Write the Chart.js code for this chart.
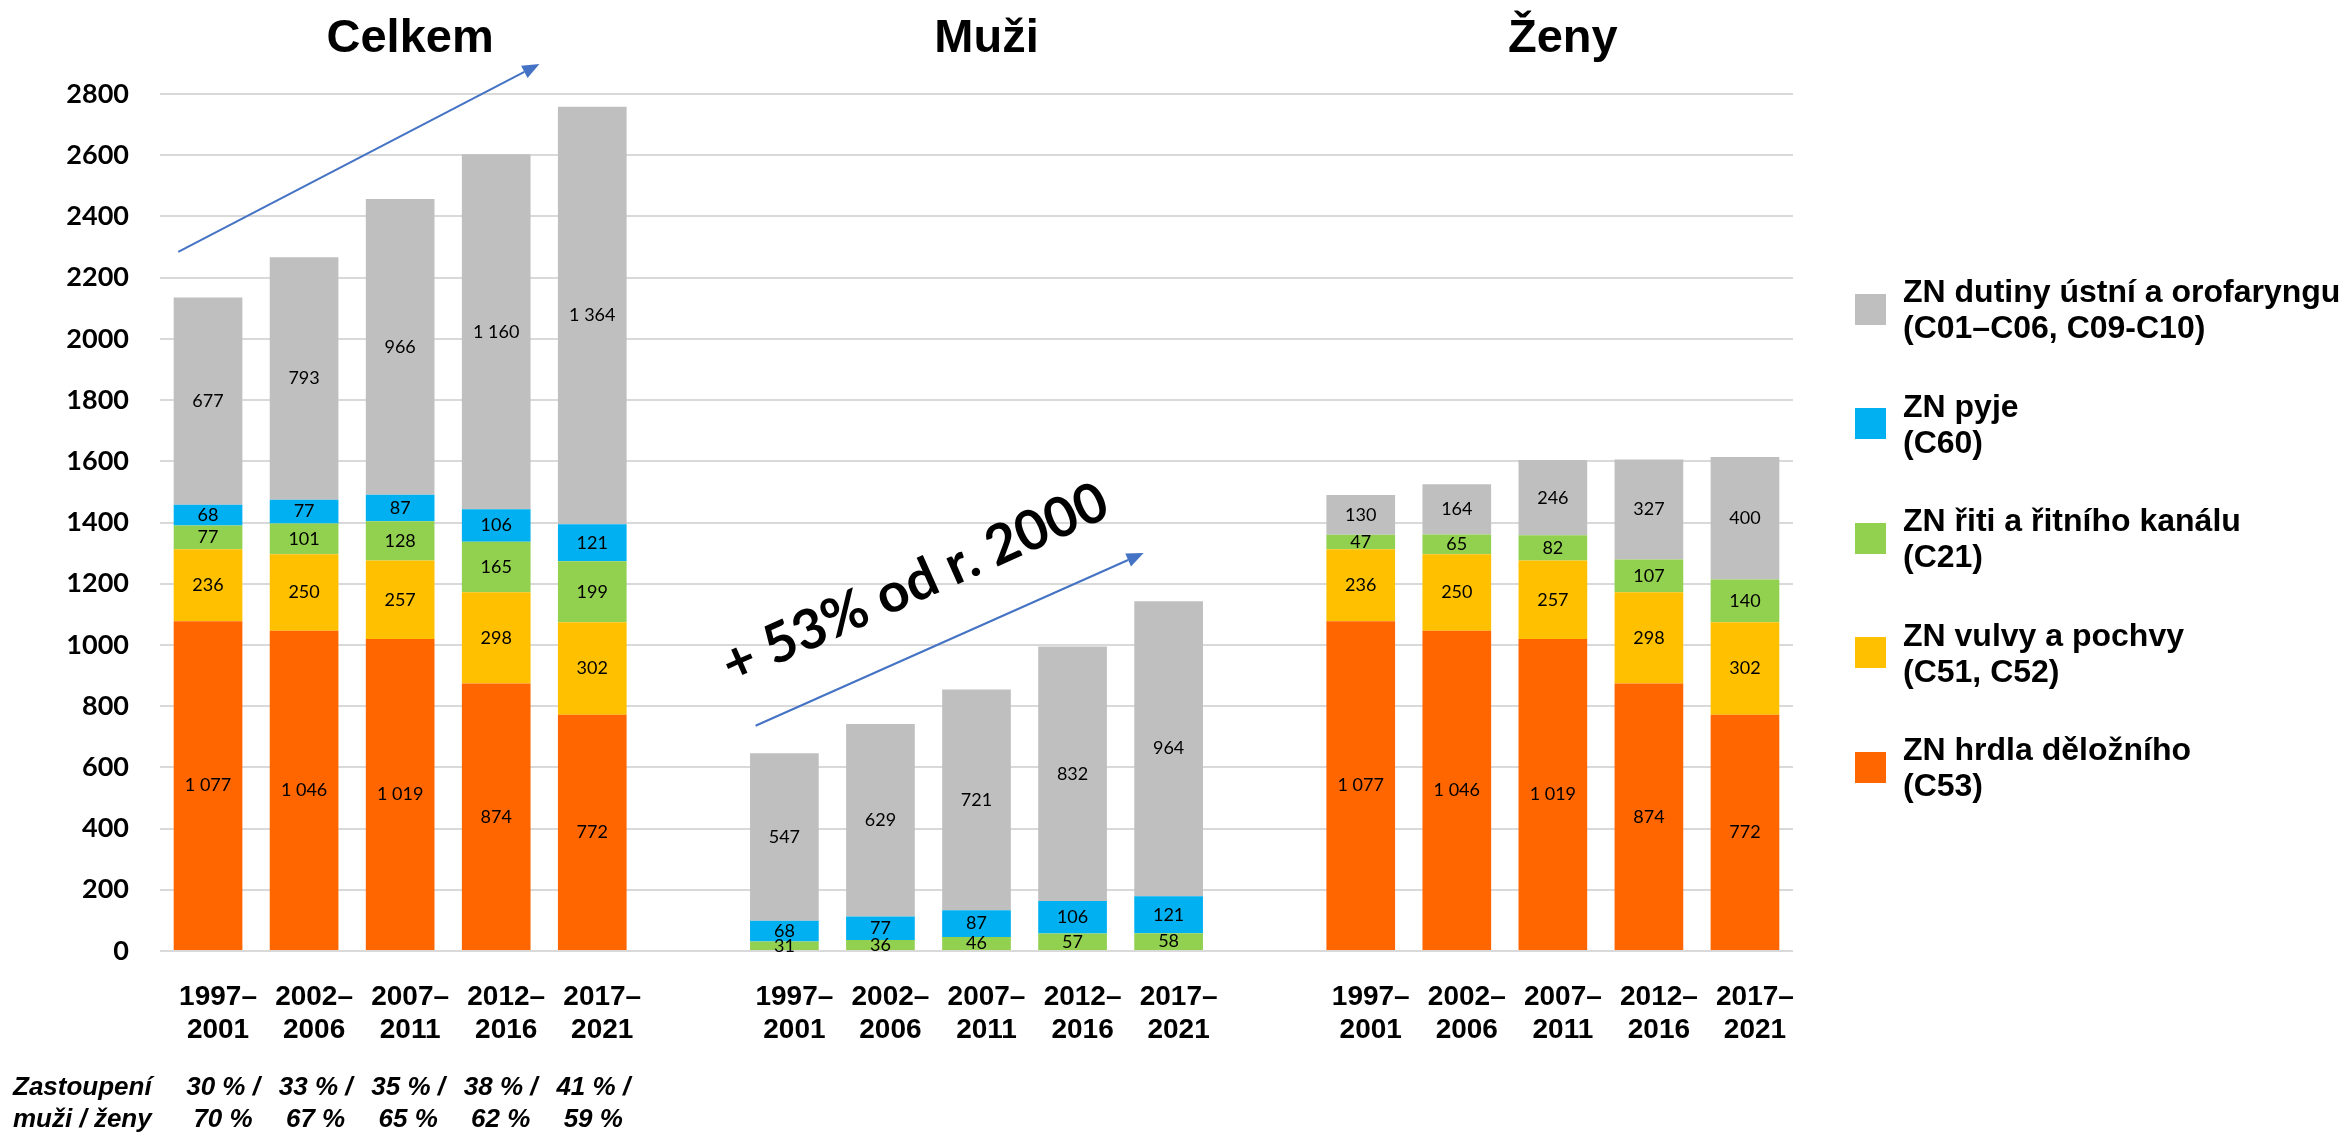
<!DOCTYPE html>
<html lang="cs">
<head>
<meta charset="utf-8">
<title>ZN asociované s HPV</title>
<script src="https://cdn.jsdelivr.net/npm/chart.js@4.4.1/dist/chart.umd.min.js"></script>
<style>
  body { margin: 0; background: #fff; }
  #wrap { position: relative; width: 2346px; height: 1135px; }
  #legend {
    position: absolute; left: 1855px; top: 252px;
    font-family: 'Liberation Sans', Arial, sans-serif; font-weight: bold;
    font-size: 32px; line-height: 36px; color: #000; white-space: nowrap;
  }
  .item { display: flex; align-items: center; height: 114.5px; }
  .box { width: 31px; height: 31px; margin-right: 17px; flex: none; }
</style>
</head>
<body>
<div id="wrap">
  <canvas id="chart" width="2346" height="1135"></canvas>
  <div id="legend"></div>
</div>
<script>
// Data
const periods = [['1997–', '2001'], ['2002–', '2006'], ['2007–', '2011'], ['2012–', '2016'], ['2017–', '2021']];
const groupTitles = ['Celkem', 'Muži', 'Ženy'];

const cervixAll = [1077, 1046, 1019, 874, 772];
const cervixWomen = [1077, 1046, 1019, 874, 772];
const vulvaAll = [236, 250, 257, 298, 302];
const vulvaWomen = [236, 250, 257, 298, 302];
const analAll = [77, 101, 128, 165, 199];
const analMen = [31, 36, 46, 57, 58];
const analWomen = [47, 65, 82, 107, 140];
const penisAll = [68, 77, 87, 106, 121];
const penisMen = [68, 77, 87, 106, 121];
const oralAll = [677, 793, 966, 1160, 1364];
const oralMen = [547, 629, 721, 832, 964];
const oralWomen = [130, 164, 246, 327, 400];

const shareMen = ['30 % /', '33 % /', '35 % /', '38 % /', '41 % /'];
const shareWomen = ['70 %', '67 %', '65 %', '62 %', '59 %'];

const yTicks = { min: 0, max: 2800, step: 200 };

// annotation positions in data space (category index, value)
const arrows = [
    { from: [-0.31, 2284], to: [3.45, 2898] },
    { from: [5.70, 736], to: [9.74, 1300] }
];
const growthNote = { text: '+ 53% od r. 2000', at: [7.36, 1200], angle: -24 };

const FONT = "'Liberation Sans', Arial, sans-serif";
const empty = [null, null, null, null, null];

// three groups of five bars, with one empty slot between groups
function joinGroups(all, men, women) {
    return [...all, null, ...(men || empty), null, ...(women || empty)];
}

const labels = joinGroups(periods, periods, periods).map(l => l || '');

const datasets = [
    { label: ['ZN hrdla děložního', '(C53)'], data: joinGroups(cervixAll, null, cervixWomen), backgroundColor: '#FF6600' },
    { label: ['ZN vulvy a pochvy', '(C51, C52)'], data: joinGroups(vulvaAll, null, vulvaWomen), backgroundColor: '#FFC000' },
    { label: ['ZN řiti a řitního kanálu', '(C21)'], data: joinGroups(analAll, analMen, analWomen), backgroundColor: '#92D050' },
    { label: ['ZN pyje', '(C60)'], data: joinGroups(penisAll, penisMen, null), backgroundColor: '#00B0F0' },
    { label: ['ZN dutiny ústní a orofaryngu', '(C01–C06, C09-C10)'], data: joinGroups(oralAll, oralMen, oralWomen), backgroundColor: '#BFBFBF' }
];

function fmt(n) {
    return String(n).replace(/\B(?=(\d{3})+(?!\d))/g, ' ');
}

// numbers in the middle of each segment
const valueLabels = {
    id: 'valueLabels',
    afterDatasetsDraw(chart) {
        const ctx = chart.ctx;
        ctx.save();
        ctx.font = '18px Lato, sans-serif';
        ctx.fillStyle = '#000';
        ctx.textAlign = 'center';
        ctx.textBaseline = 'middle';
        chart.data.datasets.forEach((ds, i) => {
            chart.getDatasetMeta(i).data.forEach((bar, j) => {
                const v = ds.data[j];
                if (!v) return;
                ctx.fillText(fmt(v), bar.x, (bar.y + bar.base) / 2);
            });
        });
        ctx.restore();
    }
};

function drawArrow(ctx, x1, y1, x2, y2) {
    const a = Math.atan2(y2 - y1, x2 - x1);
    const len = 17, half = 7;
    const bx = x2 - len * Math.cos(a), by = y2 - len * Math.sin(a);
    ctx.save();
    ctx.strokeStyle = '#4472C4';
    ctx.fillStyle = '#4472C4';
    ctx.lineWidth = 2;
    ctx.beginPath();
    ctx.moveTo(x1, y1);
    ctx.lineTo(bx, by);
    ctx.stroke();
    ctx.beginPath();
    ctx.moveTo(x2, y2);
    ctx.lineTo(bx + half * Math.sin(a), by - half * Math.cos(a));
    ctx.lineTo(bx - half * Math.sin(a), by + half * Math.cos(a));
    ctx.closePath();
    ctx.fill();
    ctx.restore();
}

// titles, arrows, rotated note and the share row under the first group
const annotations = {
    id: 'annotations',
    afterDraw(chart) {
        const { ctx, scales: { x, y } } = chart;
        ctx.save();
        ctx.fillStyle = '#000';
        ctx.textAlign = 'center';
        ctx.textBaseline = 'alphabetic';
        ctx.font = 'bold 47px ' + FONT;
        groupTitles.forEach((t, g) => {
            ctx.fillText(t, x.getPixelForValue(g * 6 + 2) + 10, 52);
        });

        arrows.forEach(a => drawArrow(ctx,
            x.getPixelForValue(a.from[0]), y.getPixelForValue(a.from[1]),
            x.getPixelForValue(a.to[0]), y.getPixelForValue(a.to[1])));

        ctx.save();
        ctx.translate(x.getPixelForValue(growthNote.at[0]), y.getPixelForValue(growthNote.at[1]));
        ctx.rotate(growthNote.angle * Math.PI / 180);
        ctx.font = 'bold 55px Lato, sans-serif';
        ctx.textBaseline = 'middle';
        ctx.fillText(growthNote.text, 0, 0);
        ctx.restore();

        ctx.font = 'italic bold 26px ' + FONT;
        ctx.textBaseline = 'middle';
        ctx.textAlign = 'left';
        ctx.fillText('Zastoupení', 13, 1088);
        ctx.fillText('muži / ženy', 13, 1120);
        ctx.textAlign = 'center';
        shareMen.forEach((s, i) => {
            const px = x.getPixelForValue(i) + 15 - 3.5 * i;
            ctx.fillText(s, px, 1088);
            ctx.fillText(shareWomen[i], px, 1120);
        });
        ctx.restore();
    }
};

const chart = new Chart(document.getElementById('chart'), {
    type: 'bar',
    data: { labels: labels, datasets: datasets },
    options: {
        responsive: false,
        animation: false,
        layout: { padding: { top: 94, right: 553, bottom: 0, left: 0 } },
        datasets: { bar: { categoryPercentage: 1, barPercentage: 0.715 } },
        plugins: { legend: { display: false }, tooltip: { enabled: false } },
        scales: {
            x: {
                stacked: true,
                grid: { display: false },
                border: { display: false },
                ticks: {
                    color: '#000',
                    font: { family: FONT, size: 28, weight: 'bold', lineHeight: 1.18 },
                    padding: 22,
                    labelOffset: 10,
                    maxRotation: 0,
                    autoSkip: false
                },
                afterFit: s => { s.height = 184; }
            },
            y: {
                stacked: true,
                min: yTicks.min,
                max: yTicks.max,
                grid: { color: '#D9D9D9', lineWidth: 2, drawTicks: false },
                border: { display: false },
                ticks: {
                    stepSize: yTicks.step,
                    color: '#000',
                    font: { family: 'Lato, sans-serif', size: 27, weight: 'bold' },
                    padding: 31,
                    callback: v => String(v)
                },
                afterFit: s => { s.width = 160; }
            }
        }
    },
    plugins: [valueLabels, annotations]
});

// legend on the right, top to bottom as in the slide
const legend = document.getElementById('legend');
datasets.slice().reverse().forEach(ds => {
    const item = document.createElement('div');
    item.className = 'item';
    item.innerHTML = '<span class="box" style="background:' + ds.backgroundColor + '"></span>' +
        '<span>' + ds.label.join('<br>') + '</span>';
    legend.appendChild(item);
});
</script>
</body>
</html>
